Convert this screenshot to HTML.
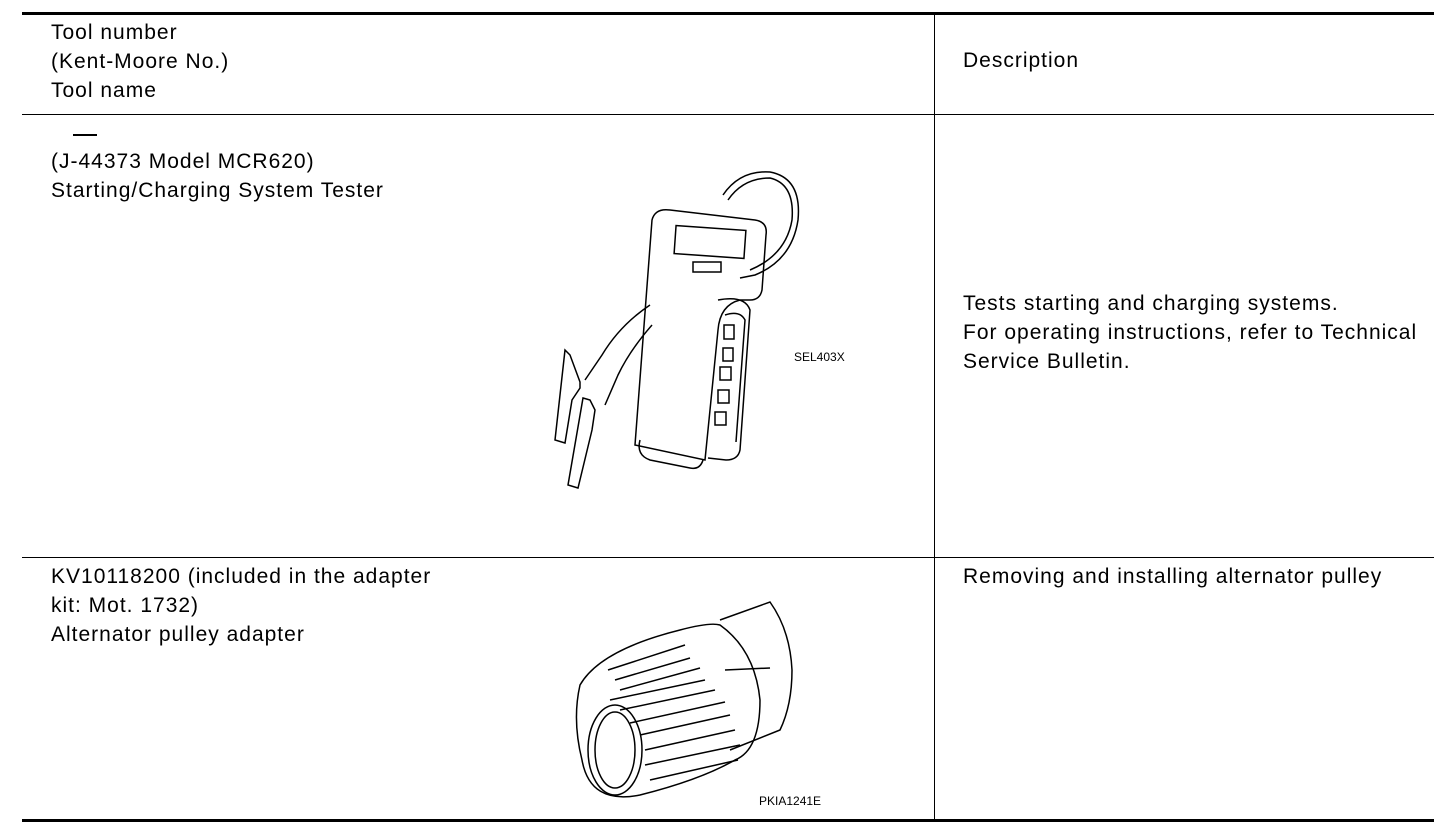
<!DOCTYPE html>
<html><head><meta charset="utf-8"><style>
body{margin:0;width:1456px;height:826px;background:#fff;position:relative;overflow:hidden;font-family:"Liberation Sans",Arial,sans-serif;color:#000}
.t{position:absolute;font-size:21px;line-height:29px;white-space:nowrap;letter-spacing:1px}
.l{position:absolute;background:#000}
.s{position:absolute;font-size:12px;white-space:nowrap}
</style></head><body>
<div class="l" style="left:22px;top:12px;width:1412px;height:3px"></div>
<div class="l" style="left:22px;top:114px;width:1412px;height:1px"></div>
<div class="l" style="left:22px;top:557px;width:1412px;height:1px"></div>
<div class="l" style="left:22px;top:819px;width:1412px;height:3px"></div>
<div class="l" style="left:934px;top:14px;width:1px;height:806px"></div>

<div class="t" style="left:51px;top:18px">Tool number<br>(Kent-Moore No.)<br>Tool name</div>
<div class="t" style="left:963px;top:46px">Description</div>

<div class="l" style="left:73px;top:134px;width:24px;height:2px"></div>
<div class="t" style="left:51px;top:147px">(J-44373 Model MCR620)<br>Starting/Charging System Tester</div>
<div class="t" style="left:963px;top:289px">Tests starting and charging systems.<br>For operating instructions, refer to Technical<br>Service Bulletin.</div>

<div class="t" style="left:51px;top:562px">KV10118200 (included in the adapter<br>kit: Mot. 1732)<br>Alternator pulley adapter</div>
<div class="t" style="left:963px;top:562px">Removing and installing alternator pulley</div>

<svg style="position:absolute;left:540px;top:160px" width="320" height="340" viewBox="0 0 320 340" fill="none" stroke="#000" stroke-width="1.5">
<path d="M183 35 Q200 10 230 12 Q262 18 258 60 Q252 100 215 115 L200 118"/>
<path d="M188 40 Q203 18 230 18 Q255 24 252 60 Q246 95 210 110"/>
<path d="M130 50 L215 60 Q228 62 226 75 L222 130 Q220 140 210 140 L200 140 Q180 145 178 170 L165 300 L95 285 L112 60 Q115 48 130 50Z"/>
<path d="M100 280 Q96 295 110 300 L150 308 Q160 310 163 300"/>
<path d="M178 140 Q205 135 210 150 L200 290 Q198 300 186 300 L168 298"/>
<path d="M185 155 Q200 150 205 160 L196 282"/>
<rect x="135" y="68" width="70" height="28" transform="rotate(4 170 82)"/>
<rect x="153" y="102" width="28" height="10"/>
<rect x="184" y="165" width="10" height="14"/><rect x="183" y="188" width="10" height="13"/>
<rect x="180" y="207" width="11" height="13"/><rect x="178" y="230" width="11" height="13"/><rect x="175" y="252" width="11" height="13"/>
<path d="M110 145 Q80 165 62 195 L45 220 M112 165 Q90 190 78 215 L65 245"/>
<path d="M40 222 L30 195 L25 190 L15 280 L25 283 L32 240 L40 228Z"/>
<path d="M55 250 L50 240 L43 238 L28 325 L38 328 L52 270Z"/>
</svg>
<div class="s" style="left:794px;top:350px">SEL403X</div>

<svg style="position:absolute;left:560px;top:590px" width="290" height="230" viewBox="0 0 290 230" fill="none" stroke="#000" stroke-width="1.5">
<path d="M160 30 L210 12 Q230 40 232 80 Q232 115 220 140 L170 160"/>
<path d="M165 80 L210 78"/>
<path d="M20 95 Q40 60 120 40 Q150 32 160 35 Q195 60 200 110 Q200 160 175 170 Q140 190 80 205 Q30 215 22 170 Q12 130 20 95Z"/>
<ellipse cx="55" cy="160" rx="27" ry="45"/>
<ellipse cx="55" cy="160" rx="20" ry="38"/>
<path d="M50 110 L145 90 M60 120 L155 100 M70 133 L165 112 M80 145 L170 125 M85 160 L175 140 M85 175 L180 155 M90 190 L178 170 M60 100 L140 78 M55 90 L130 68 M48 80 L125 55"/>
</svg>
<div class="s" style="left:759px;top:794px">PKIA1241E</div>
</body></html>
